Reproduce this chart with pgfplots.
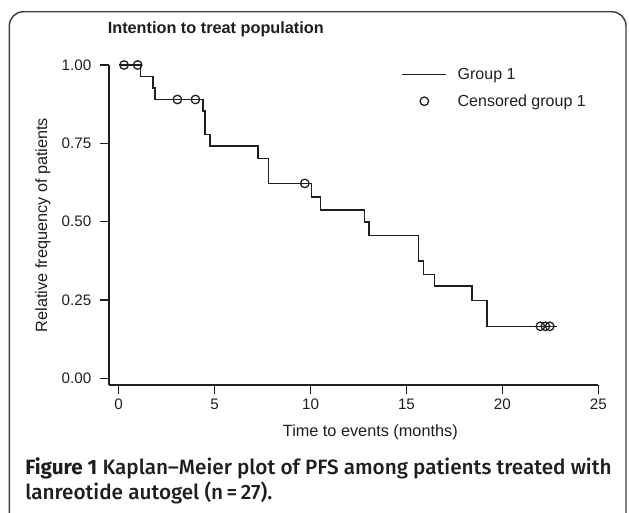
\documentclass[border=0pt]{standalone}
\usepackage{fontspec}
\setmainfont{Liberation Sans}
\newfontfamily\capfont{Fira Sans}[UprightFont={* Medium},BoldFont={* Bold},Ligatures=TeX]
\usepackage{pgfplots}
\pgfplotsset{compat=1.18}
\definecolor{ink}{HTML}{1E1E1E}
\pgfplotsset{
  kmline legend/.style={legend image code/.code={\draw[##1] (0pt,0pt) -- (33pt,0pt); \path (41pt,0pt);}},
  kmmark legend/.style={legend image code/.code={\draw[##1] plot coordinates {(16.5pt,0pt)}; \path (0pt,0pt) (41pt,0pt);}},
}
\begin{document}
\begin{tikzpicture}
\useasboundingbox (0,0) rectangle (471.75pt,-384pt);
% frame round the figure
\draw[rounded corners=10.5pt, line width=1.1pt, color=black!75]
  (7pt,-400pt) -- (7pt,-8.8pt) -- (469.5pt,-8.8pt) -- (469.5pt,-400pt);

\begin{axis}[
  at={(81.75pt,-288.75pt)}, anchor=south west,
  scale only axis, width=367pt, height=240pt,
  xmin=-0.505, xmax=25, ymin=-0.0214, ymax=1.0,
  clip=false,
  axis lines=left,
  axis line style={-, line width=0.95pt, ink},
  tick align=outside, major tick length=6.75pt,
  every tick/.style={line width=0.95pt, ink},
  xtick={0,5,10,15,20,25},
  xticklabels={0,5,10,15,20,25},
  ytick={0,0.25,0.5,0.75,1},
  yticklabels={0.00,0.25,0.50,0.75,1.00},
  tick label style={font=\fontsize{11.4}{13}\selectfont, text=ink},
  yticklabel style={xshift=-3pt},
  xlabel={Time to events (months)},
  ylabel={Relative frequency of patients},
  label style={font=\fontsize{12.2}{14}\selectfont, text=ink},
  xlabel style={at={(axis description cs:0.534,-0.149)}, anchor=center},
  ylabel style={at={(axis description cs:-0.135,0.5)}, anchor=center, rotate=0},
  title={\bfseries Intention to treat population},
  title style={at={(axis description cs:-0.003,1.0728)}, anchor=base west,
    font=\fontsize{12.2}{14}\selectfont, text=ink, inner sep=0pt},
  legend style={at={(axis description cs:0.598,0.993)}, anchor=north west,
    draw=none, fill=none, inner sep=0pt, outer sep=0pt,
    font=\fontsize{12}{14}\selectfont, text=ink,
    row sep=9.75pt, column sep=0pt,
    nodes={inner sep=0pt, text height=9.5pt, text depth=1pt}},
  legend cell align=left,
]

% Kaplan-Meier step curve, group 1
\addplot[const plot, line width=1.05pt, ink, kmline legend]
coordinates {
  (0,1.0) (1.13,0.964) (1.79,0.927) (1.90,0.890)
  (4.40,0.853) (4.50,0.779) (4.76,0.741)
  (7.26,0.701) (7.81,0.622)
  (10.04,0.579) (10.52,0.537)
  (12.81,0.499) (13.04,0.455)
  (15.63,0.375) (15.89,0.332) (16.46,0.294)
  (18.42,0.249) (19.20,0.166) (22.84,0.166)
};
\addlegendentry{Group 1}

% censored observations
\addplot[only marks, mark=o, mark size=3.2pt,
  mark options={fill=white, draw=ink, line width=0.95pt}, kmmark legend]
coordinates {
  (0.28,1.0) (0.99,1.0)
  (3.06,0.890) (4.00,0.890)
  (9.70,0.622)
  (21.98,0.166) (22.24,0.166) (22.47,0.166)
};
\addlegendentry{Censored group 1}
\end{axis}

% caption
\node[anchor=west, inner sep=0pt, text=ink, font=\capfont\fontsize{15.55}{18}\selectfont]
  at (18.75pt,-351.5pt) {{\bfseries Figure 1} Kaplan–Meier plot of PFS among patients treated with};
\node[anchor=west, inner sep=0pt, text=ink, font=\capfont\fontsize{15.55}{18}\selectfont]
  at (18.75pt,-370pt) {lanreotide autogel (n\,=\,27).};
\end{tikzpicture}
\end{document}
